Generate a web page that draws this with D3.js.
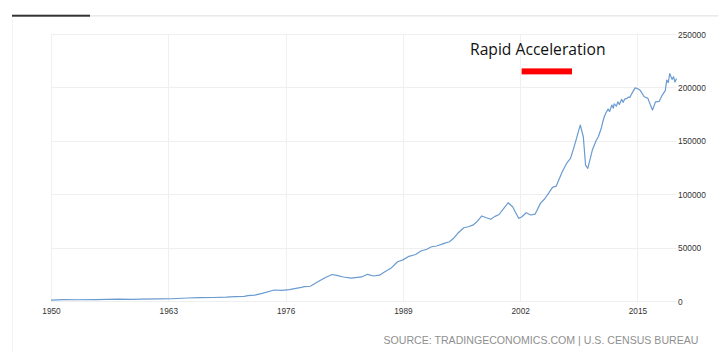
<!DOCTYPE html>
<html>
<head>
<meta charset="utf-8">
<script src="https://cdn.jsdelivr.net/npm/d3@7"></script>
<style>
  body { margin: 0; background: #fff; }
  svg { display: block; }
</style>
</head>
<body>
<div id="chart"></div>
<script>
// monthly points (value in USD millions)
const dates = [
  "1950-01","1951-06","1953-01","1955-01","1957-06","1959-01","1960-01","1962-01","1963-06","1965-03",
  "1966-06","1968-01","1969-06","1970-06","1971-06","1971-11","1972-08","1973-06","1974-10","1975-08",
  "1976-06","1977-10","1978-02","1978-10","1979-08","1980-06","1981-03","1981-09","1982-06","1983-04",
  "1984-06","1985-02","1985-10","1986-06","1987-01","1987-09","1988-06","1989-01","1989-08","1990-06",
  "1991-01","1991-09","1992-03","1992-10","1993-08","1994-03","1994-09","1995-02","1995-10","1996-04",
  "1996-10","1997-04","1997-10","1998-04","1998-10","1999-03","1999-09","2000-03","2000-09","2001-03",
  "2001-11","2002-03","2002-09","2003-03","2003-09","2004-04","2004-10","2005-03","2005-08","2006-01",
  "2006-09","2007-03","2007-08","2008-01","2008-04","2008-07","2008-09","2009-01","2009-04","2009-07",
  "2010-01","2010-06","2010-09","2011-01","2011-03","2011-05","2011-07","2011-09","2011-10","2011-12",
  "2012-03","2012-05","2012-06","2012-09","2012-11","2013-01","2013-04","2013-06","2013-08","2013-11",
  "2014-01","2014-03","2014-05","2014-07","2014-10","2015-01","2015-05","2015-10","2016-03","2016-06",
  "2016-09","2016-11","2017-01","2017-06","2017-10","2018-02","2018-04","2018-06","2018-08","2018-11",
  "2019-01","2019-03","2019-05"
];
const exports = [
  900,1200,1150,1300,1700,1500,1800,1900,2100,2800,
  3100,3300,3600,4100,4400,5000,5500,7200,10300,10000,
  10700,12800,13400,13800,18000,22000,24800,24000,22500,21500,
  22500,25000,23400,24200,27400,30600,36800,38500,41500,43500,
  46800,48500,50800,51500,54000,55500,59000,63400,68600,69500,
  71000,74500,79600,78000,76500,79000,81000,86500,92000,88300,
  77400,78600,82600,80500,81400,91400,96000,101000,106400,107600,
  121000,129000,133600,145000,152300,160000,164700,153800,127300,124200,
  141300,150000,153800,162000,167800,172500,176000,178500,179700,177500,
  183500,180500,184500,182500,186500,184000,188800,186000,189000,189700,
  191000,190500,193500,196000,199500,199000,197000,191200,189700,184000,
  178800,182500,186500,187000,192800,197000,206900,204500,213000,207500,
  210000,205000,208400
];
const yTicks = [0, 50000, 100000, 150000, 200000, 250000];
const xTicks = [1950, 1963, 1976, 1989, 2002, 2015];
const noteText = "Rapid Acceleration";
const noteSpan = ["2002-03", "2007-10"];
const noteLevel = [217800, 212200];
const sourceText = "SOURCE: TRADINGECONOMICS.COM | U.S. CENSUS BUREAU";

const W = 718, H = 358;
const parse = d3.timeParse("%Y-%m");
const data = dates.map((d, i) => ({ date: parse(d), value: exports[i] }));

const svg = d3.select("#chart").append("svg")
  .attr("width", W)
  .attr("height", H);

const x = d3.scaleTime()
  .domain([new Date(1950, 0, 1), data[data.length - 1].date])
  .range([51, 676.5]);

const y = d3.scaleLinear()
  .domain([0, 250000])
  .range([301, 34]);

// frame bits
svg.append("line")
  .attr("x1", 12.5).attr("x2", 12.5)
  .attr("y1", 17).attr("y2", 352)
  .attr("stroke", "#f3f3f3");
svg.append("rect")
  .attr("x", 90).attr("y", 15)
  .attr("width", W - 90).attr("height", 1.6)
  .attr("fill", "#e9e9e9");
svg.append("rect")
  .attr("x", 12).attr("y", 14.7)
  .attr("width", 78).attr("height", 2)
  .attr("fill", "#333");

// grid
svg.append("g")
  .selectAll("line")
  .data(yTicks)
  .join("line")
  .attr("x1", 51).attr("x2", 676.5)
  .attr("y1", d => Math.round(y(d)) + 0.5)
  .attr("y2", d => Math.round(y(d)) + 0.5)
  .attr("stroke", "#efefef");

svg.append("g")
  .selectAll("line")
  .data(xTicks)
  .join("line")
  .attr("x1", d => Math.round(x(new Date(d, 0, 1))) + 0.5)
  .attr("x2", d => Math.round(x(new Date(d, 0, 1))) + 0.5)
  .attr("y1", y(250000)).attr("y2", y(0))
  .attr("stroke", "#f0f0f0");

// axes (narrow digits like the original)
const tickFont = "'Liberation Sans', Arial, sans-serif";

const xAxis = svg.append("g")
  .attr("transform", `translate(0,${y(0)})`)
  .call(d3.axisBottom(x)
    .tickValues(xTicks.map(d => new Date(d, 0, 1)))
    .tickFormat(d3.timeFormat("%Y"))
    .tickSize(0)
    .tickPadding(6));
xAxis.select(".domain").remove();
xAxis.selectAll("text")
  .attr("fill", "#333")
  .attr("font-size", "9.5px")
  .attr("font-family", tickFont)
  .attr("textLength", function() { return this.textContent.length * 4.6; })
  .attr("lengthAdjust", "spacingAndGlyphs");

const yAxis = svg.append("g")
  .attr("transform", `translate(676.5,0)`)
  .call(d3.axisRight(y)
    .tickValues(yTicks)
    .tickFormat(d3.format("d"))
    .tickSize(0)
    .tickPadding(1.5));
yAxis.select(".domain").remove();
yAxis.selectAll("text")
  .attr("fill", "#333")
  .attr("font-size", "9.5px")
  .attr("font-family", tickFont)
  .attr("textLength", function() { return this.textContent.length * 4.65; })
  .attr("lengthAdjust", "spacingAndGlyphs");

// series
const line = d3.line()
  .x(d => x(d.date))
  .y(d => y(d.value));

svg.append("path")
  .datum(data)
  .attr("d", line)
  .attr("fill", "none")
  .attr("stroke", "#6a9bd0")
  .attr("stroke-width", 1.2)
  .attr("stroke-linejoin", "round");

// annotation
const n0 = x(parse(noteSpan[0])), n1 = x(parse(noteSpan[1]));
svg.append("text")
  .attr("x", 470)
  .attr("y", 55)
  .attr("textLength", 135.5)
  .attr("lengthAdjust", "spacingAndGlyphs")
  .attr("fill", "#111")
  .attr("font-size", "16.5px")
  .attr("font-family", "'Open Sans', 'Liberation Sans', sans-serif")
  .text(noteText);

svg.append("rect")
  .attr("x", n0)
  .attr("y", y(noteLevel[0]))
  .attr("width", n1 - n0)
  .attr("height", y(noteLevel[1]) - y(noteLevel[0]))
  .attr("fill", "#ff0000");

// source
svg.append("text")
  .attr("x", 383.5)
  .attr("y", 343.5)
  .attr("textLength", 315)
  .attr("lengthAdjust", "spacingAndGlyphs")
  .attr("fill", "#8f8f8f")
  .attr("font-size", "11px")
  .attr("font-family", "'Liberation Sans', sans-serif")
  .text(sourceText);
</script>
</body>
</html>
